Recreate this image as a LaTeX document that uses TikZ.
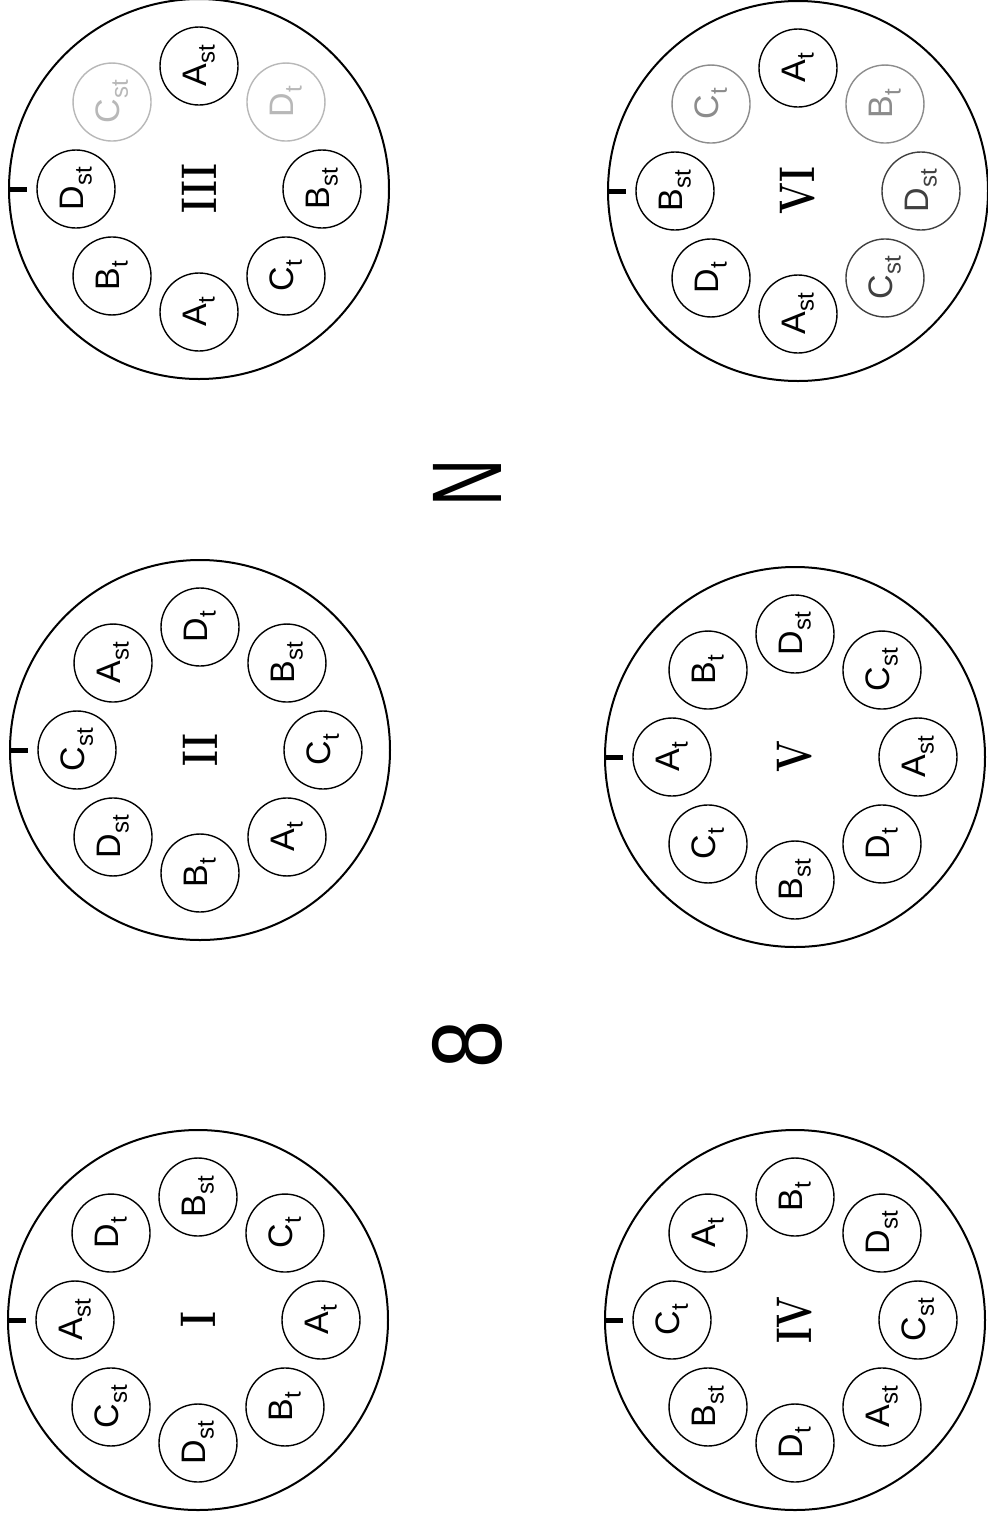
\documentclass[tikz,border=0pt]{standalone}
\usepackage{fontspec}
\usetikzlibrary{calc}
\newfontfamily\sansf{Liberation Sans}
\newcommand\lab[2]{{\sansf\fontsize{34}{34}\selectfont #1\kern0.5pt\raisebox{-8pt}{\fontsize{24}{24}\selectfont #2}}}
\tikzset{
  big/.style={circle, draw, line width=2pt, minimum size=380pt, inner sep=0pt},
  small/.style={circle, draw, line width=1.4pt, minimum size=78pt, inner sep=0pt, rotate=90},
  numeral/.style={rotate=90, inner sep=0pt, font=\bfseries\fontsize{50}{50}\selectfont},
  bigletter/.style={rotate=90, inner sep=0pt, font=\sansf\fontsize{99}{99}\selectfont},
  tickmark/.style={line width=5pt},
  plain/.style={},
  faint/.style={draw=black!28, text=black!28},
  pale/.style={draw=black!45, text=black!45},
  mid/.style={draw=black!75, text=black!75},
}
\newcommand\drawset[4]{%
  \node[big] (#1) at (#2,#3) {};
  \node[numeral] (#1-num) at (#1) {\scalebox{0.75}[1]{#4}};
  \coordinate (#1-tickend) at ($(#1.west)+(19,0)$);
  \draw[tickmark] (#1.west) -- (#1-tickend);
}
\newcommand\smalls[2]{%
  \foreach \ang/\L/\S/\sty [count=\i] in {#2} {
    \node[small,\sty] (#1-\i) at ($(#1)+(\ang:123)$) {\lab{\L}{\S}};
  }
}
\begin{document}
\begin{tikzpicture}[x=1pt, y=-1pt]
\useasboundingbox[fill=white] (0,0) rectangle (988,1516);

\drawset{I}{198}{1320}{I}
\smalls{I}{180/A/st/plain, 225/D/t/plain, 270/B/st/plain, 315/C/t/plain, 0/A/t/plain, 45/B/t/plain, 90/D/st/plain, 135/C/st/plain}

\drawset{II}{200}{750}{II}
\smalls{II}{180/C/st/plain, 225/A/st/plain, 270/D/t/plain, 315/B/st/plain, 0/C/t/plain, 45/A/t/plain, 90/B/t/plain, 135/D/st/plain}

\drawset{III}{199}{189}{III}
\smalls{III}{180/D/st/plain, 225/C/st/faint, 270/A/st/plain, 315/D/t/faint, 0/B/st/plain, 45/C/t/plain, 90/A/t/plain, 135/B/t/plain}

\drawset{IV}{795}{1320}{IV}
\smalls{IV}{180/C/t/plain, 225/A/t/plain, 270/B/t/plain, 315/D/st/plain, 0/C/st/plain, 45/A/st/plain, 90/D/t/plain, 135/B/st/plain}

\drawset{V}{795}{757}{V}
\smalls{V}{180/A/t/plain, 225/B/t/plain, 270/D/st/plain, 315/C/st/plain, 0/A/st/plain, 45/D/t/plain, 90/B/st/plain, 135/C/t/plain}

\drawset{VI}{798}{191}{VI}
\smalls{VI}{180/B/st/plain, 225/C/t/pale, 270/A/t/plain, 315/B/t/pale, 0/D/st/mid, 45/C/st/mid, 90/A/st/plain, 135/D/t/plain}

\node[bigletter] (north) at (467,483) {\scalebox{0.66}[1]{N}};
\node[bigletter] (eight) at (467,1045) {\scalebox{0.87}[1]{8}};
\end{tikzpicture}
\end{document}
